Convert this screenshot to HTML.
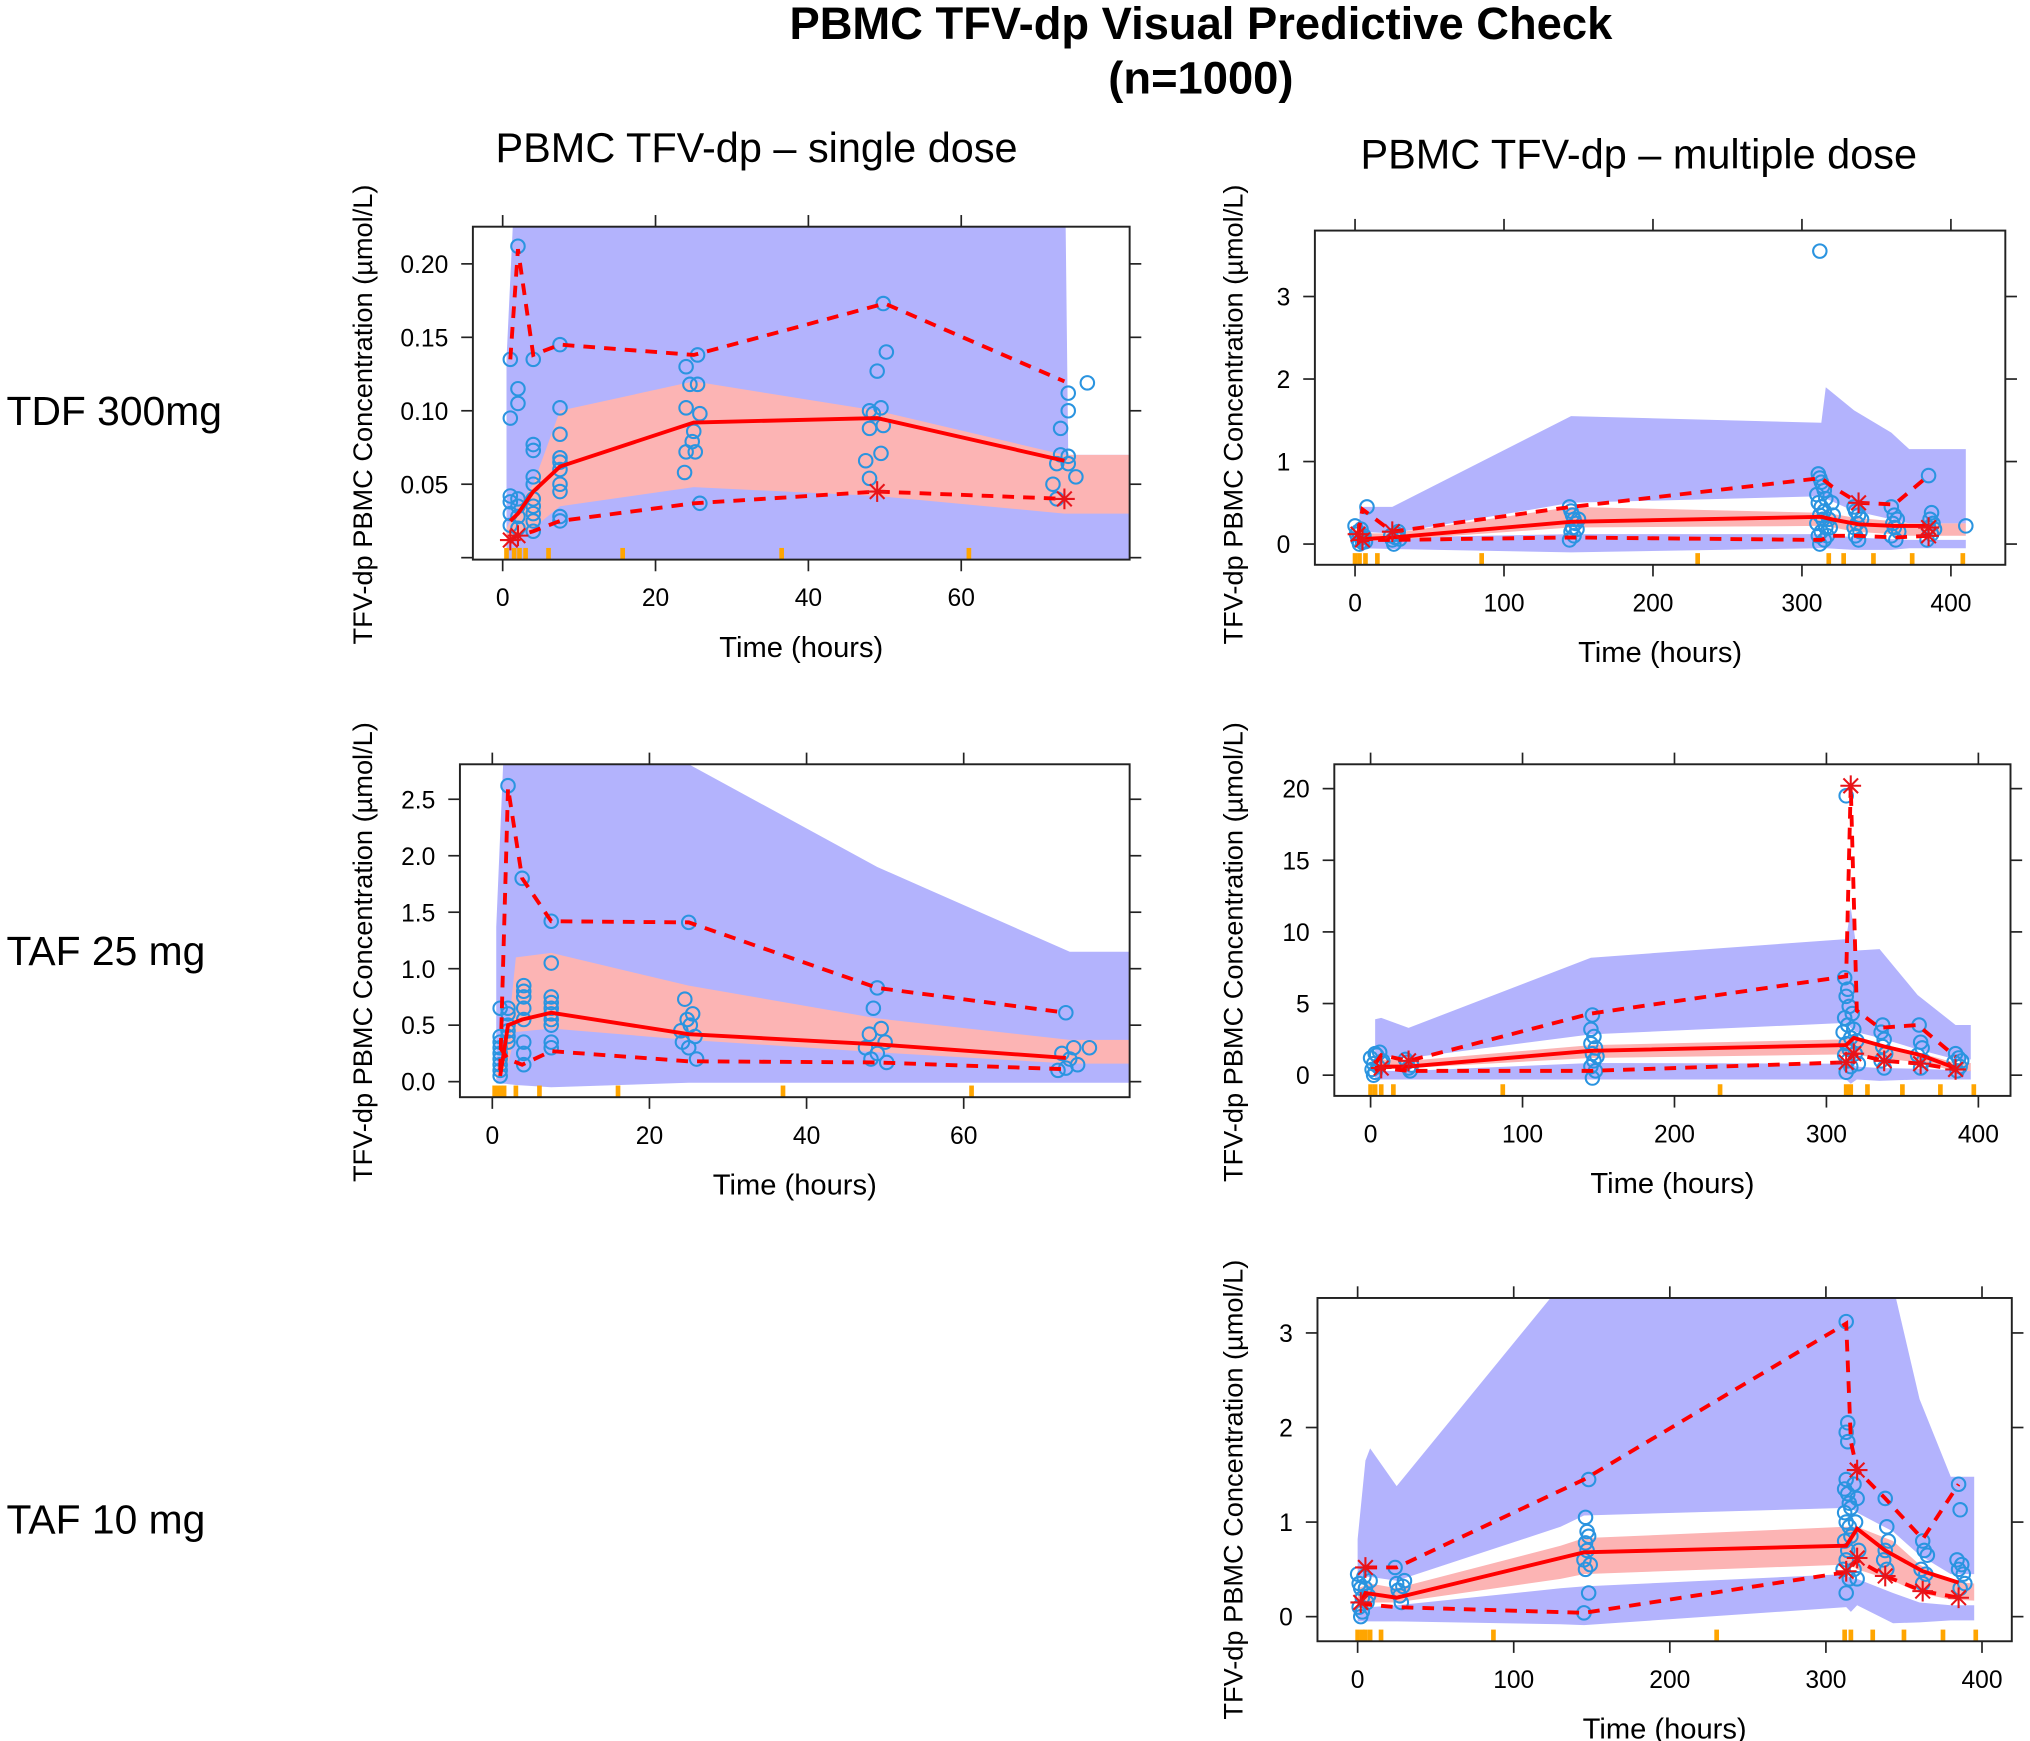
<!DOCTYPE html>
<html><head><meta charset="utf-8">
<style>
html,body{margin:0;padding:0;background:#fff;}
svg{display:block;font-family:"Liberation Sans",Arial,sans-serif;}
</style></head>
<body>
<svg id="chart" width="2030" height="1741" viewBox="0 0 1567 1344" xmlns="http://www.w3.org/2000/svg">
  <text x="927" y="30" text-anchor="middle" font-size="35" font-weight="bold">PBMC TFV-dp Visual Predictive Check</text>
  <text x="927" y="72" text-anchor="middle" font-size="35" font-weight="bold">(n=1000)</text>
  <text x="584" y="125" text-anchor="middle" font-size="32">PBMC TFV-dp – single dose</text>
  <text x="1265" y="130" text-anchor="middle" font-size="32">PBMC TFV-dp – multiple dose</text>
  <text x="5" y="328" font-size="31.5">TDF 300mg</text>
  <text x="5" y="745" font-size="31.5">TAF 25 mg</text>
  <text x="5" y="1184" font-size="31.5">TAF 10 mg</text>
</svg>
<script>
// ---------- Panel A: TDF 300mg single dose ----------
const aBandT=[0.5,2,4,7.5,25,49,73.5,74,82];
const aUpHi=[0.135,0.3,0.3,0.3,0.3,0.3,0.3,0.07,0.07];
const aUpLo=[-0.01,-0.01,-0.01,-0.01,-0.01,-0.01,-0.01,-0.01,-0.01];
const aMedHi=[0.02,0.035,0.05,0.1,0.12,0.1,0.07,0.07,0.07];
const aMedLo=[0.01,0.015,0.02,0.035,0.048,0.042,0.03,0.03,0.03];
const aBinT=[1,2,4,7.5,25,49,73.5];
const aObsMed=[0.025,0.03,0.045,0.062,0.092,0.095,0.066];
const aHiT=[1,2,4,7.5,25,50,73.5];
const aObsHi=[0.135,0.21,0.138,0.145,0.138,0.173,0.12];
const aObsLo=[0.012,0.015,0.018,0.025,0.037,0.045,0.04];
const aStarT=[1,2,49,73.5];
const aStarC=[0.012,0.015,0.045,0.04];
const aRug=[0.5,1.5,2.2,3,6,15.7,36.5,61];
const aPtT=[1,1,1,1,1,1, 2,2,2,2,2,2,2, 4,4,4,4,4,4,4,4,4,4, 7.5,7.5,7.5,7.5,7.5,7.5,7.5,7.5,7.5,7.5,
 24,25.5,24.5,25.5,24,25.8,25,24.8,24,25.2,23.8,25.8,
 49.8,50.2,49,49.5,48,48.5,49.8,48,49.5,47.5,48,
 76.5,74,74,73,73,74,72.5,74,75,72,72.5];
const aPtC=[0.135,0.095,0.042,0.038,0.03,0.022, 0.212,0.115,0.105,0.04,0.035,0.028,0.02,
 0.135,0.077,0.073,0.055,0.05,0.04,0.035,0.03,0.025,0.018,
 0.145,0.102,0.084,0.068,0.065,0.06,0.05,0.045,0.028,0.025,
 0.13,0.138,0.118,0.118,0.102,0.098,0.086,0.079,0.072,0.072,0.058,0.037,
 0.173,0.14,0.127,0.102,0.1,0.098,0.09,0.088,0.071,0.066,0.054,
 0.119,0.112,0.1,0.088,0.07,0.069,0.064,0.064,0.055,0.05,0.04];
const aXTicks=[0,20,40,60];
const aYTicks=[0,0.05,0.1,0.15,0.2];
const aYLabels=["","0.05","0.10","0.15","0.20"];

// ---------- Panel B: TDF 300mg multiple dose ----------
const bBandT=[3,25,145,313,316,335,360,372,410];
const bUpHi=[0.45,0.45,1.55,1.47,1.9,1.62,1.35,1.15,1.15];
const bUpLo=[0.15,0.13,0.5,0.58,0.55,0.4,0.3,0.25,0.25];
const bMedHi=[0.13,0.13,0.45,0.38,0.38,0.32,0.28,0.25,0.25];
const bMedLo=[0.03,0.05,0.2,0.22,0.22,0.15,0.12,0.1,0.1];
const bLoHi=[0.08,0.08,0.12,0.12,0.12,0.08,0.06,0.05,0.05];
const bLoLo=[-0.05,-0.06,-0.1,-0.05,-0.05,-0.07,-0.07,-0.05,-0.05];
const bBinT=[2,5,25,145,313,320,338,362,385];
const bObsMed=[0.05,0.06,0.08,0.27,0.33,0.3,0.24,0.22,0.22];
const bHiT=[2,5,25,145,313,320,338,362,385];
const bObsHi=[0.12,0.42,0.15,0.45,0.8,0.7,0.5,0.48,0.83];
const bObsLo=[0.02,0.05,0.05,0.08,0.05,0.1,0.1,0.08,0.1];
const bStarT=[2,5,25,338,385,385];
const bStarC=[0.12,0.05,0.15,0.5,0.2,0.1];
const bRug=[0,3,7,15,85,230,318,328,348,374,408];
const bPtT=[0,1,2,3,4,5,6,7,8,2,5, 24,25,26,27,28,30,29,
 144,145,146,147,148,146,145,147,144,149,150,
 312,311,312,313,314,315,310,316,311,313,315,312,314,310,316,313,311,315,312,318,320,317,319,321,
 335,336,338,337,335,339,336,338,340, 360,362,364,361,365,360,363,362, 385,387,386,388,385,387,384,389, 410];
const bPtC=[0.22,0.12,0.05,0.0,0.18,0.08,0.1,0.03,0.45,0.15,0.02, 0.1,0.05,0.0,0.08,0.12,0.06,0.15,
 0.45,0.4,0.35,0.3,0.25,0.2,0.15,0.1,0.05,0.18,0.3,
 3.55,0.85,0.8,0.75,0.7,0.65,0.6,0.55,0.5,0.45,0.4,0.35,0.3,0.25,0.2,0.15,0.1,0.05,0.0,0.3,0.5,0.1,0.2,0.35,
 0.45,0.4,0.35,0.25,0.2,0.15,0.1,0.05,0.3, 0.45,0.35,0.3,0.25,0.15,0.1,0.05,0.2, 0.83,0.38,0.3,0.25,0.2,0.12,0.05,0.18, 0.22];
const bXTicks=[0,100,200,300,400];
const bYTicks=[0,1,2,3];
const bYLabels=["0","1","2","3"];

// ---------- Panel C: TAF 25 mg single dose ----------
const cBandT=[0.5,1.8,3,7.5,25,49,73.5,82];
const cUpHi=[1.37,3.5,3.5,3.5,2.81,1.9,1.15,1.15];
const cUpLo=[-0.015,-0.02,-0.03,-0.05,-0.01,-0.01,-0.01,-0.01];
const cMedHi=[0.1,0.3,1.1,1.14,0.85,0.56,0.37,0.37];
const cMedLo=[0.02,0.1,0.44,0.47,0.37,0.26,0.16,0.16];
const cBinT=[1,2,3.8,7.5,25,49,73];
const cObsMed=[0.05,0.5,0.55,0.61,0.42,0.33,0.21];
const cHiT=[1,2,3.8,7.5,25,49,73];
const cObsHi=[0.1,2.6,1.8,1.42,1.41,0.83,0.61];
const cObsLo=[0.3,0.2,0.15,0.27,0.18,0.17,0.11];
const cStarT=[];
const cStarC=[];
const cRug=[0.3,0.7,1.1,1.5,3,6,16,37,61];
const cPtT=[1,1,1,1,1,1,1,1,1, 2,2,2,2,2,2,2, 3.8,4,4,4,4,4,4,4,4, 7.5,7.5,7.5,7.5,7.5,7.5,7.5,7.5,7.5,7.5,
 25,24.5,25.5,24.8,25.2,24,25.8,24.2,25,26, 49,48.5,49.5,48,50,47.5,49,48.2,50.2, 73,74,72.5,73.5,74.5,73,72, 76];
const cPtC=[0.65,0.4,0.35,0.3,0.25,0.2,0.15,0.05,0.1, 2.62,0.65,0.6,0.5,0.45,0.4,0.35, 1.8,0.85,0.8,0.75,0.65,0.55,0.35,0.25,0.15,
 1.42,1.05,0.75,0.7,0.65,0.6,0.55,0.5,0.35,0.3,
 1.41,0.73,0.6,0.55,0.5,0.45,0.4,0.35,0.3,0.2, 0.83,0.65,0.47,0.42,0.35,0.3,0.25,0.2,0.17, 0.61,0.3,0.25,0.2,0.15,0.12,0.1, 0.3];
const cXTicks=[0,20,40,60];
const cYTicks=[0,0.5,1,1.5,2,2.5];
const cYLabels=["0.0","0.5","1.0","1.5","2.0","2.5"];

// ---------- Panel D: TAF 25 mg multiple dose ----------
const dBandT=[3,7,25,145,313,316,320,335,360,385,395];
const dUpHi=[3.9,4.0,3.3,8.2,9.5,11.7,8.7,8.8,5.6,3.5,3.5];
const dUpLo=[1.3,1.3,1.2,2.85,3.65,3.3,3.0,2.6,1.8,1.1,1.1];
const dMedHi=[1.0,1.1,1.0,2.1,2.5,2.7,2.6,2.2,1.6,0.85,0.85];
const dMedLo=[0.3,0.4,0.5,1.2,1.45,1.5,1.4,1.2,0.9,0.28,0.28];
const dLoHi=[0.2,0.3,0.3,0.85,0.8,0.8,0.6,0.5,0.45,0.35,0.35];
const dLoLo=[-0.3,-0.3,-0.3,-0.3,-0.3,-0.6,-0.3,-0.4,-0.3,-0.3,-0.3];
const dBinT=[3,7,25,145,313,318,338,362,385];
const dObsMed=[0.5,0.6,0.6,1.7,2.1,2.6,2.0,1.4,0.5];
const dHiT=[3,7,25,145,313,316,320,335,360,385];
const dObsHi=[0.8,1.4,1.0,4.3,6.9,20.2,4.5,3.3,3.5,1.3];
const dObsLo=[0.3,0.5,0.3,0.3,0.9,1.5,1.0,0.8,0.4];
const dStarT=[7,25,316,313,318,338,362,385];
const dStarC=[0.5,1.0,20.2,0.9,1.5,1.0,0.8,0.4];
const dRug=[0,3,7,15,87,230,313,316,327,350,375,397];
const dPtT=[0,2,1,3,4,6,5,7,2,8,3, 24,25,26,27,23,
 146,145,147,145,148,146,147,145,148,146,149,
 313,312,314,313,315,312,317,314,311,316,313,315,312,314,316,313,318,320,319,321,
 337,336,338,337,339,336,338, 361,362,363,360,364,362, 385,387,384,388,386,389];
const dPtC=[1.2,0.8,0.4,0.2,1.4,1.6,0.6,0.9,0.0,1.0,1.5, 0.9,0.5,0.3,0.7,1.1,
 4.2,3.2,2.7,2.2,1.9,1.5,1.0,0.6,0.3,-0.2,1.3,
 19.5,6.8,6.0,5.5,4.8,4.0,4.3,3.5,3.0,2.6,2.2,1.8,1.4,1.0,0.6,0.2,3.2,2.4,1.5,0.8,
 3.5,3.0,2.5,2.0,1.5,1.0,0.5, 3.5,2.3,1.9,1.4,1.0,0.5, 1.5,1.2,0.9,0.6,0.3,1.0];
const dXTicks=[0,100,200,300,400];
const dYTicks=[0,5,10,15,20];
const dYLabels=["0","5","10","15","20"];

// ---------- Panel E: TAF 10 mg multiple dose ----------
const eBandT=[0,5,8,25,130,145,313,316,320,343,360,380,395];
const eUpHi=[0.82,1.65,1.78,1.38,3.5,3.5,3.5,3.5,3.5,3.5,2.3,1.48,1.48];
const eUpLo=[0.4,0.42,0.42,0.38,0.95,1.07,1.15,1.15,1.1,0.9,0.65,0.45,0.45];
const eMedHi=[0.3,0.33,0.35,0.3,0.75,0.83,0.95,0.95,0.95,0.8,0.55,0.37,0.35];
const eMedLo=[0.08,0.12,0.15,0.15,0.4,0.45,0.55,0.55,0.5,0.38,0.25,0.18,0.17];
const eLoHi=[0.05,0.08,0.1,0.12,0.3,0.32,0.45,0.4,0.4,0.25,0.15,0.12,0.12];
const eLoLo=[-0.05,-0.05,-0.05,-0.05,-0.08,-0.09,0.1,0.05,0.12,-0.07,-0.06,-0.04,-0.04];
const eBinT=[2,5,25,145,313,320,338,362,385];
const eObsMed=[0.15,0.25,0.2,0.68,0.75,0.93,0.7,0.48,0.36];
const eHiT=[5,25,145,313,316,320,338,362,385];
const eObsHi=[0.52,0.52,1.45,3.1,1.85,1.55,1.25,0.82,1.4];
const eObsLo=[0.15,0.13,0.1,0.04,0.47,0.6,0.43,0.27,0.2];
const eStarT=[2,5,313,320,320,338,362,385];
const eStarC=[0.15,0.52,0.48,0.62,1.55,0.43,0.27,0.2];
const eRug=[0,3,5,8,15,87,230,312,316,330,350,375,396];
const ePtT=[0,1,2,3,1,2,4,5,6,7,3,8, 24,25,26,27,28,30,29,
 148,146,147,148,146,147,145,149,146,148,145,
 313,314,313,314,313,312,314,315,316,312,313,315,316,312,314,313,311,315,313,318,320,319,321,318,320,
 338,339,340,338,337,339, 362,363,365,361,364,362, 385,386,384,387,385,388,386,389];
const ePtC=[0.45,0.35,0.3,0.2,0.1,0.0,0.42,0.3,0.15,0.22,0.05,0.38, 0.52,0.35,0.28,0.22,0.15,0.38,0.32,
 1.45,1.05,0.9,0.85,0.78,0.7,0.6,0.55,0.5,0.25,0.04,
 3.12,2.05,1.95,1.85,1.45,1.35,1.3,1.2,1.15,1.1,1.0,0.95,0.85,0.8,0.7,0.6,0.5,0.4,0.25,1.4,1.25,1.0,0.7,0.5,0.4,
 1.25,0.95,0.8,0.7,0.6,0.5, 0.8,0.7,0.65,0.5,0.45,0.35, 1.4,1.13,0.6,0.55,0.5,0.45,0.3,0.35];
const eXTicks=[0,100,200,300,400];
const eYTicks=[0,1,2,3];
const eYLabels=["0","1","2","3"];

const NS="http://www.w3.org/2000/svg";
const svg=document.getElementById('chart');
function mk(tag,parent){const e=document.createElementNS(NS,tag);parent.appendChild(e);return e;}

const panels=[
 {id:'a',L:365,R:872,T:175,B:432,x0:388,xk:5.9,y0:430.5,yk:1134,ytx:280,yty:320,
  bands:[[aBandT,aUpHi,aUpLo,'#b3b3fd']],pink:[aBandT,aMedHi,aMedLo],
  binT:aBinT,med:aObsMed,hiT:aHiT,hi:aObsHi,lo:aObsLo,starT:aStarT,starC:aStarC,rug:aRug,ptT:aPtT,ptC:aPtC,
  xt:aXTicks,yt:aYTicks,yl:aYLabels},
 {id:'b',L:1015,R:1548,T:178,B:436,x0:1046,xk:1.15,y0:420,yk:63.7,ytx:952,yty:320,
  bands:[[bBandT,bUpHi,bUpLo,'#b3b3fd'],[bBandT,bLoHi,bLoLo,'#b3b3fd']],pink:[bBandT,bMedHi,bMedLo],
  binT:bBinT,med:bObsMed,hiT:bHiT,hi:bObsHi,lo:bObsLo,starT:bStarT,starC:bStarC,rug:bRug,ptT:bPtT,ptC:bPtC,
  xt:bXTicks,yt:bYTicks,yl:bYLabels},
 {id:'c',L:355,R:872,T:590,B:847,x0:380,xk:6.065,y0:835,yk:87.2,ytx:280,yty:735,
  bands:[[cBandT,cUpHi,cUpLo,'#b3b3fd']],pink:[cBandT,cMedHi,cMedLo],
  binT:cBinT,med:cObsMed,hiT:cHiT,hi:cObsHi,lo:cObsLo,starT:cStarT,starC:cStarC,rug:cRug,ptT:cPtT,ptC:cPtC,
  xt:cXTicks,yt:cYTicks,yl:cYLabels},
 {id:'d',L:1030,R:1552,T:590,B:846,x0:1058,xk:1.173,y0:830,yk:11.06,ytx:952,yty:735,
  bands:[[dBandT,dUpHi,dUpLo,'#b3b3fd'],[dBandT,dLoHi,dLoLo,'#b3b3fd']],pink:[dBandT,dMedHi,dMedLo],
  binT:dBinT,med:dObsMed,hiT:dHiT,hi:dObsHi,lo:dObsLo,starT:dStarT,starC:dStarC,rug:dRug,ptT:dPtT,ptC:dPtC,
  xt:dXTicks,yt:dYTicks,yl:dYLabels},
 {id:'e',L:1017,R:1553,T:1002,B:1267,x0:1048,xk:1.205,y0:1248,yk:73,ytx:952,yty:1150,
  bands:[[eBandT,eUpHi,eUpLo,'#b3b3fd'],[eBandT,eLoHi,eLoLo,'#b3b3fd']],pink:[eBandT,eMedHi,eMedLo],
  binT:eBinT,med:eObsMed,hiT:eHiT,hi:eObsHi,lo:eObsLo,starT:eStarT,starC:eStarC,rug:eRug,ptT:ePtT,ptC:ePtC,
  xt:eXTicks,yt:eYTicks,yl:eYLabels}
];

panels.forEach(p=>{
 const X=v=>p.x0+v*p.xk, Y=v=>p.y0-v*p.yk;
 const g=mk('g',svg);
 
 
 const cp=mk('clipPath',g); cp.setAttribute('id','clip-'+p.id);
 const cr=mk('rect',cp); cr.setAttribute('x',p.L); cr.setAttribute('y',p.T); cr.setAttribute('width',p.R-p.L); cr.setAttribute('height',p.B-p.T);
 const plot=mk('g',g); plot.setAttribute('clip-path','url(#clip-'+p.id+')');
 
 
 const bandPath=(t,hi,lo)=>{let s='';t.forEach((v,i)=>{s+=(i?'L':'M')+X(v)+','+Y(hi[i]);});for(let i=t.length-1;i>=0;i--)s+='L'+X(t[i])+','+Y(lo[i]);return s+'Z';};
 p.bands.forEach(b=>{
  const e=mk('path',plot); e.setAttribute('d',bandPath(b[0],b[1],b[2])); e.setAttribute('fill',b[3]);
  
  
 });
 const pk=mk('path',plot); pk.setAttribute('d',bandPath(p.pink[0],p.pink[1],p.pink[2])); pk.setAttribute('fill','#fcb4b4');
 
 
 const line=(t,v,dash,name)=>{const e=mk('polyline',plot);e.setAttribute('points',t.map((x,i)=>X(x)+','+Y(v[i])).join(' '));
  e.setAttribute('fill','none');e.setAttribute('stroke','#ff0000');e.setAttribute('stroke-width','3');
  if(dash)e.setAttribute('stroke-dasharray','9,7');
  
  };
 p.ptT.forEach((t,i)=>{const c=mk('circle',plot);c.setAttribute('cx',X(t));c.setAttribute('cy',Y(p.ptC[i]));c.setAttribute('r','5.2');
  c.setAttribute('fill','none');c.setAttribute('stroke','#2a94e0');c.setAttribute('stroke-width','1.6');
  
  });
 line(p.binT,p.med,false,'observed-median-line');
 line(p.hiT,p.hi,true,'observed-upper-percentile-line');
 line(p.binT,p.lo,true,'observed-lower-percentile-line');
 p.starT.forEach((t,i)=>{const s=mk('g',plot);
  
  const cx=X(t),cy=Y(p.starC[i]);
  for(let k=0;k<4;k++){const a=k*Math.PI/4;const l=mk('line',s);l.setAttribute('x1',cx-8*Math.cos(a));l.setAttribute('y1',cy-8*Math.sin(a));
   l.setAttribute('x2',cx+8*Math.cos(a));l.setAttribute('y2',cy+8*Math.sin(a));l.setAttribute('stroke','#e8141a');l.setAttribute('stroke-width','1.6');}
 });
 p.rug.forEach(t=>{const r=mk('rect',plot);r.setAttribute('x',X(t)-1.8);r.setAttribute('y',p.B-9);r.setAttribute('width','3.6');r.setAttribute('height','9');r.setAttribute('fill','#ffa500');
  
  });
 const fr=mk('rect',g);fr.setAttribute('x',p.L);fr.setAttribute('y',p.T);fr.setAttribute('width',p.R-p.L);fr.setAttribute('height',p.B-p.T);
 fr.setAttribute('fill','none');fr.setAttribute('stroke','#222');fr.setAttribute('stroke-width','1.5');
 
 
 p.xt.forEach(v=>{const x=X(v);
  [[p.B,p.B+9],[p.T,p.T-9]].forEach(yy=>{const l=mk('line',g);l.setAttribute('x1',x);l.setAttribute('x2',x);l.setAttribute('y1',yy[0]);l.setAttribute('y2',yy[1]);l.setAttribute('stroke','#222');l.setAttribute('stroke-width','1.3');
   
   });
  const t=mk('text',g);t.setAttribute('x',x);t.setAttribute('y',p.B+36);t.setAttribute('text-anchor','middle');t.setAttribute('font-size','19');t.textContent=String(v);
  
  });
 p.yt.forEach((v,i)=>{const y=Y(v);
  [[p.L,p.L-9],[p.R,p.R+9]].forEach(xx=>{const l=mk('line',g);l.setAttribute('y1',y);l.setAttribute('y2',y);l.setAttribute('x1',xx[0]);l.setAttribute('x2',xx[1]);l.setAttribute('stroke','#222');l.setAttribute('stroke-width','1.3');
   
   });
  const t=mk('text',g);t.setAttribute('x',p.L-19);t.setAttribute('y',y+7);t.setAttribute('text-anchor','end');t.setAttribute('font-size','19');t.textContent=p.yl[i];
  
  });
 const xt=mk('text',g);xt.setAttribute('x',(p.L+p.R)/2);xt.setAttribute('y',p.B+75);xt.setAttribute('text-anchor','middle');xt.setAttribute('font-size','22.5');xt.textContent='Time (hours)';
 
 
 const yt=mk('text',g);yt.setAttribute('transform','translate('+p.ytx+','+p.yty+') rotate(-90)');yt.setAttribute('text-anchor','middle');yt.setAttribute('font-size','21');yt.setAttribute('dy','7');yt.textContent='TFV-dp PBMC Concentration (µmol/L)';
 
 
});
</script>
</body></html>
